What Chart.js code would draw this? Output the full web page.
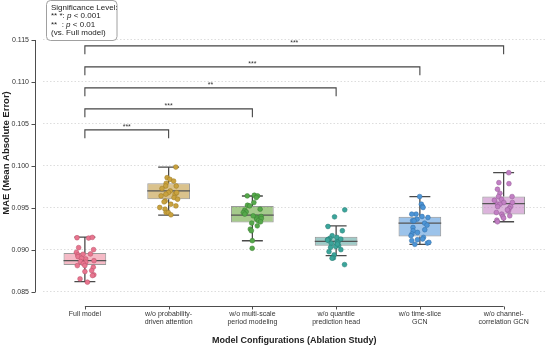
<!DOCTYPE html>
<html><head><meta charset="utf-8">
<script src="https://cdn.jsdelivr.net/npm/chart.js@4.4.1/dist/chart.umd.min.js"></script>
<style>html,body{margin:0;padding:0;background:#fff;}</style>
</head><body>
<canvas id="c" width="550" height="347" style="width:550px;height:347px;display:block"></canvas>
<script>
// ---------------- data ----------------
const categories = [
  ["Full model"],
  ["w/o probability-", "driven attention"],
  ["w/o multi-scale", "period modeling"],
  ["w/o quantile", "prediction head"],
  ["w/o time-slice", "GCN"],
  ["w/o channel-", "correlation GCN"]
];
const yTicks = [0.085, 0.090, 0.095, 0.100, 0.105, 0.110, 0.115];

const whiskerLow  = [0.08624, 0.09415, 0.09110, 0.08932, 0.09067, 0.09336];
const q1          = [0.08822, 0.09604, 0.09328, 0.09051, 0.09162, 0.09423];
const median      = [0.08873, 0.09703, 0.09415, 0.09103, 0.09320, 0.09553];
const q3          = [0.08964, 0.09794, 0.09525, 0.09158, 0.09395, 0.09636];
const whiskerHigh = [0.09154, 0.09987, 0.09643, 0.09288, 0.09636, 0.09920];

const fullModelRuns = [0.09146,0.09142,0.09150,0.09004,0.08972,0.08941,0.09028,0.08953,0.08949,0.08921,0.08893,0.08901,0.08873,0.08854,0.08862,0.08838,0.08814,0.08814,0.08795,0.08755,0.08743,0.08704,0.08696,0.08656,0.08617];
const probAttnRuns  = [0.09987,0.09861,0.09841,0.09821,0.09794,0.09762,0.09762,0.09731,0.09703,0.09683,0.09664,0.09664,0.09644,0.09624,0.09604,0.09584,0.09573,0.09545,0.09525,0.09506,0.09486,0.09446,0.09446,0.09419,0.09683];
const multiScaleRuns= [0.09644,0.09652,0.09644,0.09624,0.09565,0.09533,0.09525,0.09486,0.09474,0.09454,0.09446,0.09427,0.09399,0.09387,0.09375,0.09367,0.09348,0.09336,0.09320,0.09288,0.09249,0.09229,0.09111,0.09020,0.09407];
const quantileRuns  = [0.09478,0.09395,0.09280,0.09229,0.09170,0.09150,0.09138,0.09122,0.09122,0.09118,0.09099,0.09091,0.09079,0.09067,0.09051,0.09043,0.09031,0.09004,0.08980,0.08941,0.08906,0.08902,0.08826,0.09130,0.09071];
const timeSliceRuns = [0.09636,0.09545,0.09517,0.09506,0.09427,0.09427,0.09399,0.09387,0.09367,0.09348,0.09348,0.09320,0.09296,0.09268,0.09241,0.09229,0.09209,0.09190,0.09170,0.09150,0.09130,0.09122,0.09111,0.09083,0.09091,0.09067];
const channelRuns   = [0.09920,0.09802,0.09790,0.09723,0.09675,0.09636,0.09636,0.09604,0.09592,0.09565,0.09565,0.09545,0.09545,0.09517,0.09517,0.09494,0.09466,0.09478,0.09446,0.09427,0.09407,0.09399,0.09379,0.09355,0.09336];
const runs = [fullModelRuns, probAttnRuns, multiScaleRuns, quantileRuns, timeSliceRuns, channelRuns];

const bracketTargets = [5, 4, 3, 2, 1];
const bracketLevels  = [0.1143, 0.1118, 0.1093, 0.1068, 0.1043];
const bracketStars   = ["***", "***", "**", "***", "***"];

const yTitle = "MAE (Mean Absolute Error)";
const xTitle = "Model Configurations (Ablation Study)";

// ---------------- styles ----------------
const FONT = "'Liberation Sans', Arial, Helvetica, sans-serif";
const pointColors = ["#e8758f", "#c9a23f", "#55a84a", "#3ba59b", "#4d95d6", "#c27fc4"];
const pointEdges  = ["#b85068", "#9a7a25", "#3b7f33", "#267a72", "#336fa8", "#935a95"];
const boxFills    = ["rgba(236,130,152,0.55)", "rgba(196,156,70,0.62)", "rgba(110,170,70,0.62)", "rgba(80,160,155,0.55)", "rgba(90,155,220,0.6)", "rgba(196,130,196,0.6)"];
const BOX_HALF = 0.255, CAP_HALF = 0.125, JITTER = 0.11, LEG = 0.001;

function mulberry32(a){return function(){a|=0;a=a+0x6D2B79F5|0;let t=Math.imul(a^a>>>15,1|a);t=t+Math.imul(t^t>>>7,61|t)^t;return((t^t>>>14)>>>0)/4294967296;};}

// ---------------- datasets ----------------
const datasets = [];
datasets.push({
  type: 'bar', order: 5,
  data: categories.map((c, i) => ({x: i, y: [q1[i], q3[i]]})),
  backgroundColor: boxFills, borderColor: '#9a9a9a', borderWidth: 1, borderSkipped: false,
  barPercentage: 0.51, categoryPercentage: 1.0
});
const whiskerData = [];
categories.forEach((c, i) => {
  whiskerData.push({x: i, y: q3[i]}, {x: i, y: whiskerHigh[i]}, {x: i, y: null});
  whiskerData.push({x: i - CAP_HALF, y: whiskerHigh[i]}, {x: i + CAP_HALF, y: whiskerHigh[i]}, {x: i, y: null});
  whiskerData.push({x: i, y: q1[i]}, {x: i, y: whiskerLow[i]}, {x: i, y: null});
  whiskerData.push({x: i - CAP_HALF, y: whiskerLow[i]}, {x: i + CAP_HALF, y: whiskerLow[i]}, {x: i, y: null});
});
datasets.push({type: 'line', order: 4, data: whiskerData, borderColor: '#4a4a4a', borderWidth: 1.3, pointRadius: 0, spanGaps: false, fill: false, tension: 0});
const medianData = [];
categories.forEach((c, i) => {
  medianData.push({x: i - BOX_HALF, y: median[i]}, {x: i + BOX_HALF, y: median[i]}, {x: i, y: null});
});
datasets.push({type: 'line', order: 3, data: medianData, borderColor: '#555555', borderWidth: 1.3, pointRadius: 0, spanGaps: false, fill: false});
runs.forEach((arr, i) => {
  const rnd = mulberry32(1234 + i * 97);
  datasets.push({
    type: 'scatter', order: 2,
    data: arr.map(v => ({x: i + (rnd() * 2 - 1) * JITTER, y: v})),
    backgroundColor: pointColors[i], borderColor: pointEdges[i], borderWidth: 0.5, pointRadius: 2.4
  });
});
const bracketData = [];
bracketTargets.forEach((t, k) => {
  const h = bracketLevels[k];
  bracketData.push({x: 0, y: h - LEG}, {x: 0, y: h}, {x: t, y: h}, {x: t, y: h - LEG}, {x: t, y: null});
});
datasets.push({type: 'line', order: 1, data: bracketData, borderColor: '#444444', borderWidth: 1.1, pointRadius: 0, spanGaps: false, fill: false});

// ---------------- plugin ----------------
const decor = {
  id: 'decor',
  afterDraw(chart) {
    const ctx = chart.ctx, xs = chart.scales.x, ys = chart.scales.y, ca = chart.chartArea;
    ctx.save();
    ctx.strokeStyle = '#4d4d4d'; ctx.lineWidth = 1;
    // y spine (trimmed, offset)
    const sx = Math.round(ca.left - 8) + 0.5;
    ctx.beginPath();
    ctx.moveTo(sx, ys.getPixelForValue(yTicks[yTicks.length - 1]));
    ctx.lineTo(sx, ys.getPixelForValue(yTicks[0]));
    yTicks.forEach(v => { const p = Math.round(ys.getPixelForValue(v)) + 0.5; ctx.moveTo(sx - 4, p); ctx.lineTo(sx, p); });
    ctx.stroke();
    // x spine (trimmed)
    const sy = Math.round(ca.bottom) + 0.5;
    ctx.beginPath();
    ctx.moveTo(xs.getPixelForValue(0), sy);
    ctx.lineTo(xs.getPixelForValue(categories.length - 1), sy);
    categories.forEach((c, i) => { const p = Math.round(xs.getPixelForValue(i)) + 0.5; ctx.moveTo(p, sy); ctx.lineTo(p, sy + 3); });
    ctx.stroke();
    // stars
    ctx.fillStyle = '#333'; ctx.font = '7px ' + FONT; ctx.textAlign = 'center'; ctx.textBaseline = 'alphabetic';
    bracketTargets.forEach((t, k) => {
      const cx = (xs.getPixelForValue(0) + xs.getPixelForValue(t)) / 2;
      ctx.fillText(bracketStars[k], cx, ys.getPixelForValue(bracketLevels[k]) - 1);
    });
    // titles
    ctx.fillStyle = '#222'; ctx.font = 'bold 9px ' + FONT; ctx.textBaseline = 'middle';
    ctx.fillText(xTitle, (ca.left + ca.right) / 2, 341);
    ctx.save(); ctx.translate(6, 153); ctx.rotate(-Math.PI / 2);
    ctx.font = 'bold 9.5px ' + FONT; ctx.fillText(yTitle, 0, 0); ctx.restore();
    // significance legend box
    ctx.beginPath();
    ctx.roundRect(46.5, 0.5, 70.5, 40, 4);
    ctx.fillStyle = '#fff'; ctx.fill();
    ctx.strokeStyle = '#a0a0a0'; ctx.lineWidth = 1; ctx.stroke();
    ctx.fillStyle = '#222'; ctx.textAlign = 'left'; ctx.textBaseline = 'middle';
    const tx = 51, f = '8px ' + FONT, fi = 'italic 8px ' + FONT;
    ctx.font = f; ctx.fillText('Significance Level:', tx, 7.5);
    const rich = (parts, y) => { let x = tx; parts.forEach(([s, it]) => { ctx.font = it ? fi : f; ctx.fillText(s, x, y); x += ctx.measureText(s).width; }); };
    rich([['** *: ', 0], ['p', 1], [' < 0.001', 0]], 16);
    rich([['**  : ', 0], ['p', 1], [' < 0.01', 0]], 24.5);
    ctx.font = f; ctx.fillText('(vs. Full model)', tx, 33);
    ctx.restore();
  }
};

// ---------------- chart ----------------
new Chart(document.getElementById('c'), {
  type: 'bar',
  data: {datasets},
  options: {
    responsive: false, animation: false, devicePixelRatio: 1,
    layout: {padding: {top: 33, left: 0, right: 3, bottom: 0}},
    plugins: {legend: {display: false}, tooltip: {enabled: false}, title: {display: false}},
    scales: {
      x: {
        type: 'linear', min: -0.5, max: 5.5, offset: false,
        grid: {display: false, offset: false, drawTicks: false}, border: {display: false},
        afterBuildTicks: s => { s.ticks = categories.map((c, i) => ({value: i})); },
        afterFit: s => { s.height = 41; },
        ticks: {autoSkip: false, maxRotation: 0, minRotation: 0, padding: 4, color: '#333',
          font: {family: FONT, size: 7, lineHeight: 1.15}, callback: v => categories[v]}
      },
      y: {
        type: 'linear', min: 0.083333, max: 0.115833,
        afterBuildTicks: s => { s.ticks = yTicks.map(v => ({value: v})); },
        afterFit: s => { s.width = 43; },
        grid: {color: '#d4d4d4', lineWidth: 0.8, drawTicks: false},
        border: {display: false, dash: [1.5, 2]},
        ticks: {padding: 14, color: '#333', font: {family: FONT, size: 7}, callback: v => v.toFixed(3)}
      }
    }
  },
  plugins: [decor]
});
</script>
</body></html>
